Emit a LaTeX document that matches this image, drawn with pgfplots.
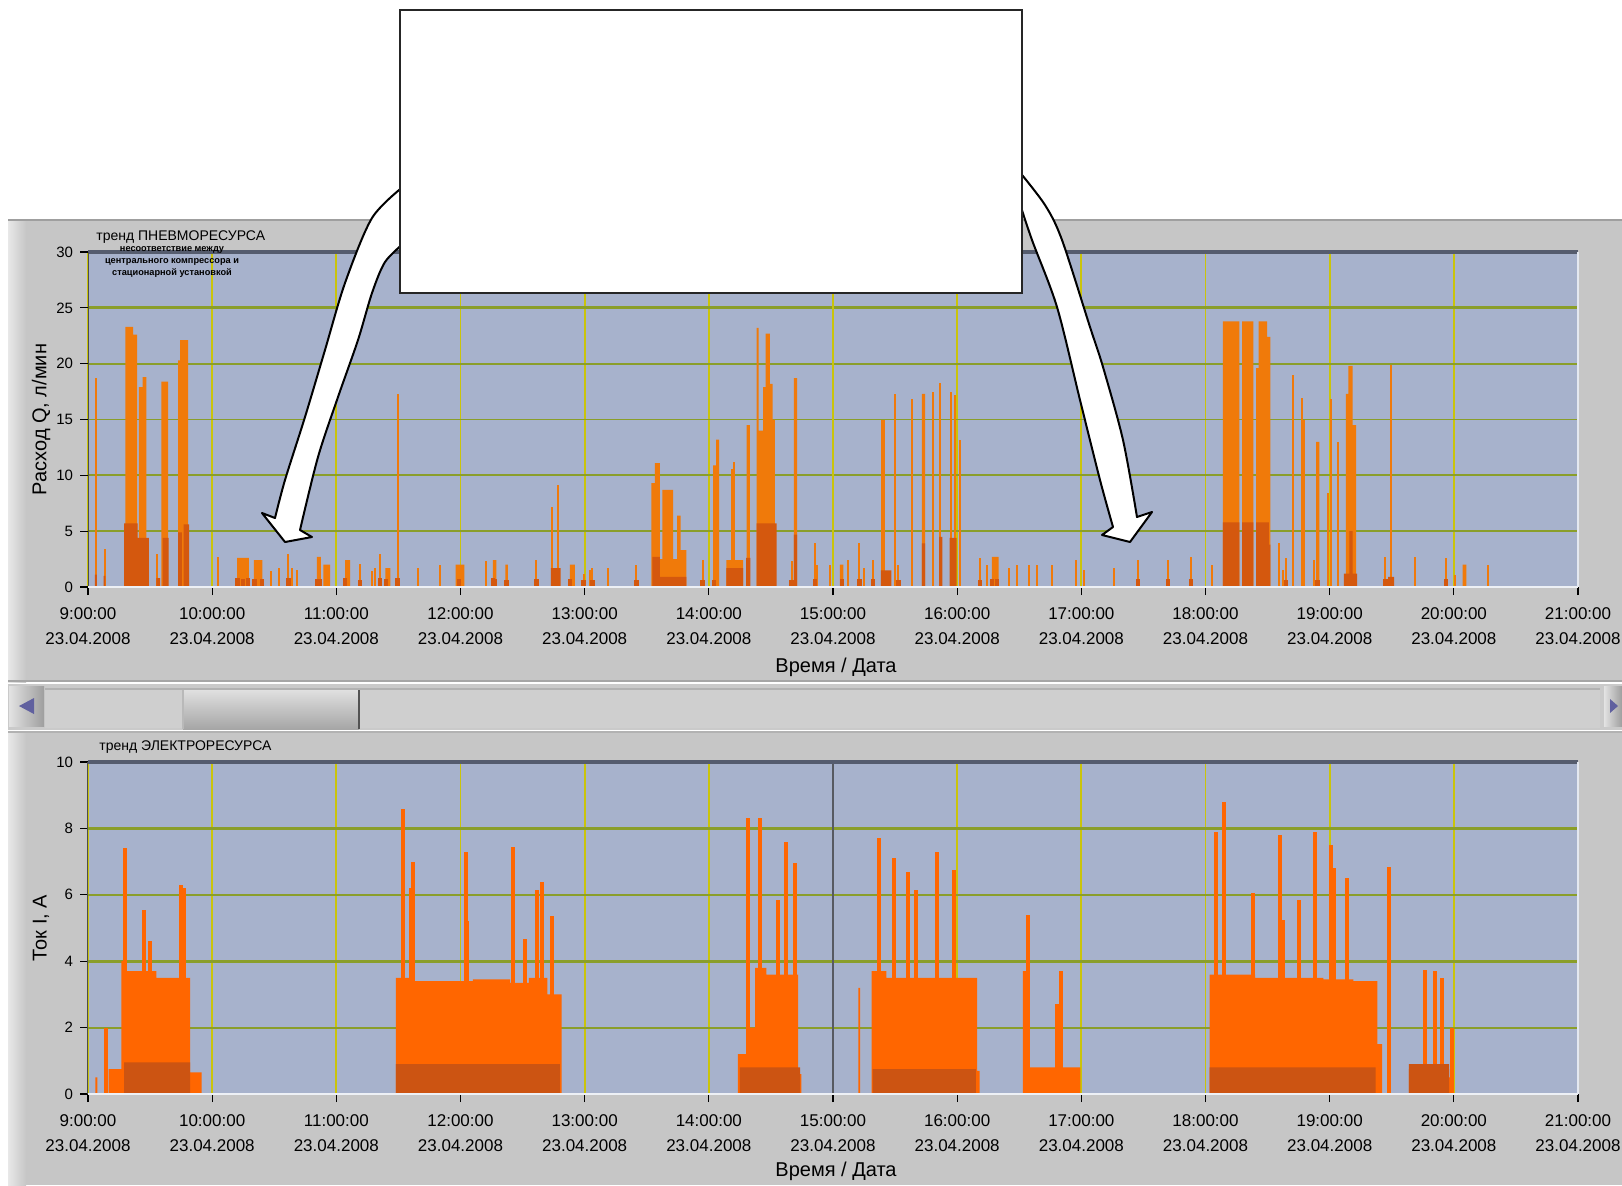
\documentclass[border=0pt]{standalone}
\usepackage{pgfplots}
\pgfplotsset{compat=1.18}
\usepackage{fontspec}
\setmainfont{Liberation Sans}
\definecolor{panel}{RGB}{198,198,198}
\definecolor{plotbg}{RGB}{167,178,204}
\definecolor{vgrid}{RGB}{202,196,10}
\definecolor{hgrid}{RGB}{138,158,42}
\definecolor{lightor}{RGB}{240,122,10}
\definecolor{darkor}{RGB}{212,88,14}
\definecolor{botor}{RGB}{255,102,0}
\definecolor{botdark}{RGB}{204,84,18}
\definecolor{axtop}{RGB}{85,92,110}
\pgfplotsset{
 lvstyle/.style={
   scale only axis, width=745pt, xmin=9, xmax=21, clip=false,
   axis background/.style={fill=plotbg},
   axis line style={draw=none},
   xtick={9,...,21},
   xticklabels={{9:00:00\\23.04.2008},{10:00:00\\23.04.2008},{11:00:00\\23.04.2008},{12:00:00\\23.04.2008},{13:00:00\\23.04.2008},{14:00:00\\23.04.2008},{15:00:00\\23.04.2008},{16:00:00\\23.04.2008},{17:00:00\\23.04.2008},{18:00:00\\23.04.2008},{19:00:00\\23.04.2008},{20:00:00\\23.04.2008},{21:00:00\\23.04.2008}},
   xticklabel style={align=center, font=\fontsize{8.5}{12.5}\selectfont, yshift=-3pt},
   yticklabel style={font=\fontsize{7.5}{9}\selectfont},
   /pgf/number format/assume math mode=true,
   tick align=outside, major tick length=4pt,
   tick style={black, line width=0.6pt},
   tick pos=left,
   xmajorgrids, ymajorgrids,
   x grid style={vgrid, line width=0.85pt},
   y grid style={hgrid, line width=0.9pt},
   label style={font=\fontsize{8.2}{10}\selectfont},
   xlabel={Время / Дата},
 }
}
\begin{document}
\begin{tikzpicture}
\path[use as bounding box] (0pt,0pt) rectangle (811pt,-592.5pt);
\clip (0pt,0pt) rectangle (811pt,-592.5pt);
% ---------------- panels
\begin{scope}[x=0.5pt,y=-0.5pt]
\fill[white] (0,0) rectangle (1622,1185);
\fill[panel] (8,219) rectangle (1622,682);
\fill[left color=panel!40!white, right color=panel] (8,219) rectangle (26,682);
\draw[gray!75, line width=1.2pt] (8,220) -- (1622,220);
\draw[gray!70, line width=1pt] (8,681) -- (1622,681);
% scrollbar
\fill[panel!92!white] (8,684) rectangle (1622,730);
\fill[panel!85!white] (45,689) rectangle (1600,728);
\draw[gray!60, line width=0.6pt] (45,689) -- (1600,689);
\shade[top color=panel!55!white, bottom color=gray!70] (183,690) rectangle (359,729);
\draw[gray!65!black, line width=0.6pt] (359,690) -- (359,729);
\draw[gray!55, line width=0.6pt] (183,690) -- (183,729);
\fill[left color=panel!50!white,right color=panel!80!black] (9,686) rectangle (44,726);
\fill[blue!25!gray] (19,706) -- (34,698) -- (34,714) -- cycle;
\fill[left color=panel!50!white,right color=panel!80!black] (1604,686) rectangle (1622,726);
\fill[blue!25!gray] (1618,706) -- (1610,699) -- (1610,713) -- cycle;
% bottom panel
\fill[panel] (8,732) rectangle (1622,1185);
\fill[left color=panel!40!white, right color=panel] (8,732) rectangle (26,1185);
\draw[gray!60, line width=0.8pt] (8,732) -- (1622,732);
\end{scope}

% ================= TOP AXIS =================
\begin{axis}[lvstyle, at={(44pt,-293.5pt)}, anchor=south west,
  height=167.5pt, ymin=0, ymax=30, ytick={0,5,...,30},
  ylabel={Расход Q, л/мин},
  every axis y label/.style={at={(axis description cs:-0.0315,0.5)}, rotate=90, anchor=center},
  every axis x label/.style={at={(axis description cs:0.502,-0.2388)}, anchor=center},
]
\draw[hgrid, line width=1.5pt] (axis cs:9,25) -- (axis cs:21,25);
\draw[hgrid, line width=1.1pt] (axis cs:9,5) -- (axis cs:21,5);
\draw[vgrid, line width=1.2pt] (axis cs:15,0) -- (axis cs:15,30);
% light orange dense blocks
\addplot[const plot, fill=lightor, draw=none] coordinates {
(9.0,0)
(9.300,23.3) (9.363,22.6) (9.395,0)
(9.410,17.9) (9.440,18.8) (9.470,0)
(9.590,18.4) (9.645,0)
(9.725,20.3) (9.742,22.1) (9.806,0)
(10.200,2.6) (10.296,0)
(10.336,2.4) (10.404,0)
(10.843,2.7) (10.875,0)
(10.896,2.0) (10.950,0)
(11.071,2.4) (11.112,0)
(11.394,1.7) (11.435,0)
(11.960,2.0) (12.032,0)
(12.261,2.4) (12.288,0)
(12.361,2.0) (12.382,0)
(12.880,2.0) (12.921,0)
(13.538,9.3) (13.565,11.1) (13.605,2.5) (13.626,8.7) (13.712,2.5) (13.745,6.4) (13.772,3.3) (13.820,0)
(14.035,10.9) (14.058,13.2) (14.083,0)
(14.142,2.4) (14.277,0)
(14.304,14.5) (14.331,0)
(14.384,23.2) (14.400,14.0) (14.438,17.9) (14.457,22.7) (14.492,18.2) (14.513,15.0) (14.532,0)
(14.685,18.7) (14.712,0)
(15.056,2.0) (15.083,0)
(15.715,17.3) (15.742,0)
(16.280,2.7) (16.333,0)
(18.139,23.8) (18.273,0)
(18.295,23.8) (18.386,0)
(18.407,19.6) (18.428,23.8) (18.496,22.4) (18.523,0)
(18.890,13.0) (18.917,0)
(19.131,17.3) (19.150,19.8) (19.185,14.5) (19.212,0)
(20.070,2.0) (20.100,0)
(21,0)} \closedcycle;
% light orange single spikes
\addplot[ycomb, lightor, line width=1pt] coordinates {
(9.063,18.7)(9.133,3.4)(9.556,3.0)
(10.048,2.7)(10.476,1.4)(10.538,1.7)(10.614,3.0)(10.646,1.7)(10.686,1.5)
(11.192,2.1)(11.284,1.4)(11.311,1.7)(11.351,3.0)(11.494,17.3)(11.661,1.7)(11.838,2.0)
(12.207,2.3)(12.611,2.4)(12.740,7.2)(12.786,9.1)(12.993,1.2)(13.042,1.5)
(13.062,1.7)(13.188,1.7)(13.417,2.0)(13.949,2.4)
(14.183,10.6)(14.204,11.2)
(14.667,2.3)(14.855,3.9)(14.870,2.0)(14.976,2.0)(15.124,2.4)(15.212,3.9)(15.250,1.7)(15.320,2.4)
(15.392,15.0)(15.411,15.0)(15.500,17.3)(15.527,2.0)(15.634,16.8)(15.809,17.5)(15.863,18.3)(15.949,17.5)(15.984,17.2)(16.024,13.2)
(16.185,2.6)(16.239,2.0)(16.414,1.7)(16.481,2.0)(16.575,2.0)(16.642,2.0)(16.763,2.0)(16.960,2.4)(17.019,1.5)
(17.263,1.7)(17.456,2.4)(17.697,2.4)(17.885,2.7)(18.054,2.0)
(18.595,3.9)(18.622,1.5)(18.649,2.6)(18.702,19.0)(18.777,16.9)(18.796,15.0)(18.877,2.4)(18.984,8.4)(19.011,16.8)(19.064,13.0)
(19.448,2.7)(19.493,19.9)(19.686,2.7)(19.936,2.6)(20.008,1.1)(20.271,2.0)};
% dark orange bases
\addplot[const plot, fill=darkor, draw=none] coordinates {
(9.0,0)
(9.055,1.1) (9.072,0)
(9.125,1.0) (9.140,0)
(9.290,5.7) (9.400,4.4) (9.490,0)
(9.550,0.8) (9.580,0)
(9.600,4.4) (9.650,0)
(9.725,4.9) (9.757,0) (9.770,5.6) (9.815,0)
(12.727,1.7) (12.807,0)
(13.546,2.7) (13.605,0.9) (13.820,0)
(14.142,1.7) (14.277,0)
(14.300,2.6) (14.335,0)
(14.384,5.7) (14.546,0)
(14.685,4.7) (14.712,0)
(15.385,1.5) (15.470,0)
(15.715,3.9) (15.742,0)
(15.855,4.5) (15.880,0)
(15.940,4.4) (15.995,0)
(18.139,5.8) (18.273,0)
(18.295,5.8) (18.386,0)
(18.407,5.8) (18.510,3.8) (18.523,0)
(19.115,1.2) (19.158,5.0) (19.185,1.2) (19.222,0)
(19.470,0.9) (19.520,0)
(21,0)} \closedcycle;
\addplot[ycomb, darkor, line width=2.2pt] coordinates {
(10.205,0.8)(10.25,0.7)(10.29,0.8)(10.34,0.7)(10.40,0.7)(10.614,0.8)(10.843,0.7)(10.87,0.7)
(11.07,0.8)(11.192,0.6)(11.351,0.8)(11.40,0.7)(11.494,0.8)(11.99,0.7)(12.26,0.8)(12.28,0.7)
(12.37,0.6)(12.611,0.7)(12.88,0.7)(12.99,0.6)(13.062,0.6)(13.417,0.6)(13.949,0.6)(14.04,0.6)
(14.667,0.6)(14.855,0.7)(15.07,0.7)(15.212,0.7)(15.32,0.7)(15.527,0.6)(16.185,0.6)(16.28,0.7)
(16.32,0.7)(17.456,0.7)(17.697,0.7)(17.885,0.7)(18.649,0.6)(18.903,0.6)(19.448,0.7)(19.936,0.7)};
% axis frame
\draw[axtop, line width=1.6pt] (rel axis cs:0,1) -- (rel axis cs:1,1);
\draw[gray!60!black, line width=0.5pt] (rel axis cs:0,0) -- (rel axis cs:0,1);
\draw[white!80!plotbg, line width=1pt] (rel axis cs:0,0) -- (rel axis cs:1,0);
\draw[white!70!plotbg, line width=0.8pt] (rel axis cs:1,0) -- (rel axis cs:1,1);
\end{axis}

% ================= BOTTOM AXIS =================
\begin{axis}[lvstyle, at={(44pt,-547pt)}, anchor=south west,
  height=166pt, ymin=0, ymax=10, ytick={0,2,...,10},
  ylabel={Ток I, А},
  every axis y label/.style={at={(axis description cs:-0.0315,0.5)}, rotate=90, anchor=center},
  every axis x label/.style={at={(axis description cs:0.502,-0.232)}, anchor=center},
]
\draw[hgrid, line width=1.6pt] (axis cs:9,8) -- (axis cs:21,8);
\draw[hgrid, line width=1.6pt] (axis cs:9,4) -- (axis cs:21,4);
\draw[gray!55!plotbg!60!black, line width=0.7pt] (axis cs:15,0) -- (axis cs:15,10);
\addplot[const plot, fill=botor, draw=none] coordinates {
(9.0,0)
(9.060,0.5) (9.075,0)
(9.167,0.75) (9.268,4.0) (9.310,3.7) (9.550,3.5) (9.823,0.65) (9.915,0)
(11.480,3.5) (11.630,3.4) (12.100,3.45) (12.400,3.35) (12.550,3.5) (12.700,3.0) (12.814,0)
(14.233,1.2) (14.300,2.0) (14.372,3.8) (14.464,3.6) (14.719,0.6) (14.745,0)
(15.205,3.2) (15.218,0)
(15.312,3.7) (15.430,3.5) (16.160,0.7) (16.180,0)
(16.530,3.7) (16.565,0.8) (16.993,0)
(18.034,3.6) (18.400,3.5) (18.950,3.45) (19.190,3.4) (19.385,1.5) (19.422,0)
(19.638,0.75) (19.961,0.5) (19.990,0)
(21,0)} \closedcycle;
\addplot[ycomb, botor, line width=2pt] coordinates {
(9.144,2.0)(9.298,7.4)(9.453,5.55)(9.499,4.6)(9.746,6.3)(9.770,6.2)
(11.534,8.6)(11.600,6.2)(11.619,7.0)(12.043,7.3)(12.055,5.2)(12.421,7.45)(12.521,4.66)(12.614,6.15)(12.660,6.4)(12.737,5.35)
(14.318,8.3)(14.410,8.3)(14.557,5.85)(14.618,7.6)(14.695,6.95)
(15.374,7.7)(15.490,7.1)(15.605,6.7)(15.667,6.15)(15.837,7.3)(15.975,6.75)
(16.569,5.4)(16.800,2.7)(16.839,3.7)
(18.088,7.9)(18.150,8.8)(18.381,6.05)(18.597,7.8)(18.625,5.25)(18.751,5.85)(18.882,7.9)(19.013,7.5)(19.035,6.8)(19.137,6.5)
(19.476,6.85)(19.769,3.75)(19.846,3.7)(19.907,3.5)(19.984,2.0)};
\addplot[const plot, fill=botdark, draw=none] coordinates {
(9.0,0)
(9.290,0.95) (9.823,0)
(11.480,0.9) (12.800,0)
(14.250,0.8) (14.735,0)
(15.320,0.75) (16.150,0)
(18.034,0.8) (19.370,0)
(19.638,0.9) (19.961,0)
(21,0)} \closedcycle;
\draw[axtop, line width=1.6pt] (rel axis cs:0,1) -- (rel axis cs:1,1);
\draw[gray!60!black, line width=0.5pt] (rel axis cs:0,0) -- (rel axis cs:0,1);
\draw[white!80!plotbg, line width=1pt] (rel axis cs:0,0) -- (rel axis cs:1,0);
\draw[white!70!plotbg, line width=0.8pt] (rel axis cs:1,0) -- (rel axis cs:1,1);
\end{axis}

% ---------------- titles, arrows, box
\begin{scope}[x=0.5pt,y=-0.5pt]
\node[anchor=west, inner sep=0pt, font=\fontsize{7}{8}\selectfont] at (96,237) {тренд ПНЕВМОРЕСУРСА};
\node[align=center, inner sep=0pt, font=\fontsize{4.6}{6}\selectfont\bfseries] at (172,262)
  {несоответствие между\\центрального компрессора и\\стационарной установкой};
\node[anchor=west, inner sep=0pt, font=\fontsize{7}{8}\selectfont] at (99,747) {тренд ЭЛЕКТРОРЕСУРСА};
% left arrow
\filldraw[fill=white, draw=black, line width=1pt, line join=round]
  plot[smooth] coordinates {(404,186) (372,218) (345,283) (325,350) (305,417) (285,480) (275,518)}
  -- (262,513) -- (285,542) -- (312,537) -- (300,530)
  -- plot[smooth] coordinates {(300,530) (318,457) (338,397) (358,340) (372,293) (385,262) (404,243)} -- cycle;
% right arrow
\filldraw[fill=white, draw=black, line width=1pt, line join=round]
  plot[smooth] coordinates {(1018,198) (1032,240) (1057,307) (1080,400) (1100,480) (1113,527)}
  -- (1102,535) -- (1130,542) -- (1152,512) -- (1137,517)
  -- plot[smooth] coordinates {(1137,517) (1123,440) (1103,367) (1090,327) (1062,240) (1045,205) (1018,170)} -- cycle;
\filldraw[fill=white, draw=black!85, line width=1pt] (400,10) rectangle (1022,293);
\end{scope}
\end{tikzpicture}
\end{document}
